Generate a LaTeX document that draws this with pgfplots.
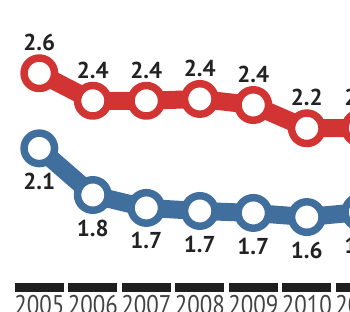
\documentclass[border=0pt]{standalone}
\usepackage{fontspec}
\usepackage{graphicx}
\usepackage{pgfplots}
\pgfplotsset{compat=1.18}
\usepackage{pgfplotstable}
\newfontfamily\lblfont{PT Sans}
\definecolor{cred}{HTML}{D23434}
\definecolor{cblue}{HTML}{406F9E}
\definecolor{ctxt}{HTML}{222222}
\newcommand\yr[1]{\scalebox{0.85}[1]{#1}}

\pgfplotstableread{
year val lbl
2005 2.597 2.6
2006 2.416 2.4
2007 2.416 2.4
2008 2.428 2.4
2009 2.388 2.4
2010 2.235 2.2
2011 2.237 2.2
}\redtab
\pgfplotstableread{
year val lbl
2005 2.103 2.1
2006 1.796 1.8
2007 1.711 1.7
2008 1.691 1.7
2009 1.678 1.7
2010 1.651 1.6
2011 1.684 1.7
}\bluetab

\begin{document}
\begin{tikzpicture}
\useasboundingbox (0,0) rectangle (350pt,311pt);
\clip (0,0) rectangle (350pt,311pt);
\begin{axis}[
  at={(0,0)}, anchor=south west,
  scale only axis, width=387.05pt, height=311pt,
  xmin=2004.2654, xmax=2011.5, ymin=1.0329, ymax=3.0789,
  axis line style={draw=none}, tick style={draw=none},
  ytick=\empty,
  xtick={2005,2006,2007,2008,2009,2010,2011},
  xticklabels={\yr{2005},\yr{2006},\yr{2007},\yr{2008},\yr{2009},\yr{2010},\yr{2011}},
  xticklabel style={font=\lblfont\fontsize{27}{27}\selectfont, text=ctxt!85, anchor=north, inner sep=0pt, yshift=16pt},
  point meta=explicit symbolic,
]
% black segmented baseline
\addplot[black!88, line width=9pt, unbounded coords=jump, forget plot] coordinates {
 (2004.542,1.1875) (2005.458,1.1875) (2005.5,nan)
 (2005.542,1.1875) (2006.458,1.1875) (2006.5,nan)
 (2006.542,1.1875) (2007.458,1.1875) (2007.5,nan)
 (2007.542,1.1875) (2008.458,1.1875) (2008.5,nan)
 (2008.542,1.1875) (2009.458,1.1875) (2009.5,nan)
 (2009.542,1.1875) (2010.458,1.1875) (2010.5,nan)
 (2010.542,1.1875) (2011.458,1.1875)
};
% red series
\addplot[cred, line width=18pt, line join=round,
  mark=*, mark size=15.25pt, mark options={fill=white, draw=cred, line width=7.5pt},
  nodes near coords,
  every node near coord/.append style={font=\lblfont\bfseries\fontsize{23}{23}\selectfont, text=ctxt, anchor=center, yshift=30.5pt}]
  table[x=year, y=val, meta=lbl] {\redtab};
% blue series
\addplot[cblue, line width=18pt, line join=round,
  mark=*, mark size=15.25pt, mark options={fill=white, draw=cblue, line width=7.5pt},
  nodes near coords,
  every node near coord/.append style={font=\lblfont\bfseries\fontsize{23}{23}\selectfont, text=ctxt, anchor=center, yshift=-33pt}]
  table[x=year, y=val, meta=lbl] {\bluetab};
\end{axis}
\end{tikzpicture}
\end{document}
